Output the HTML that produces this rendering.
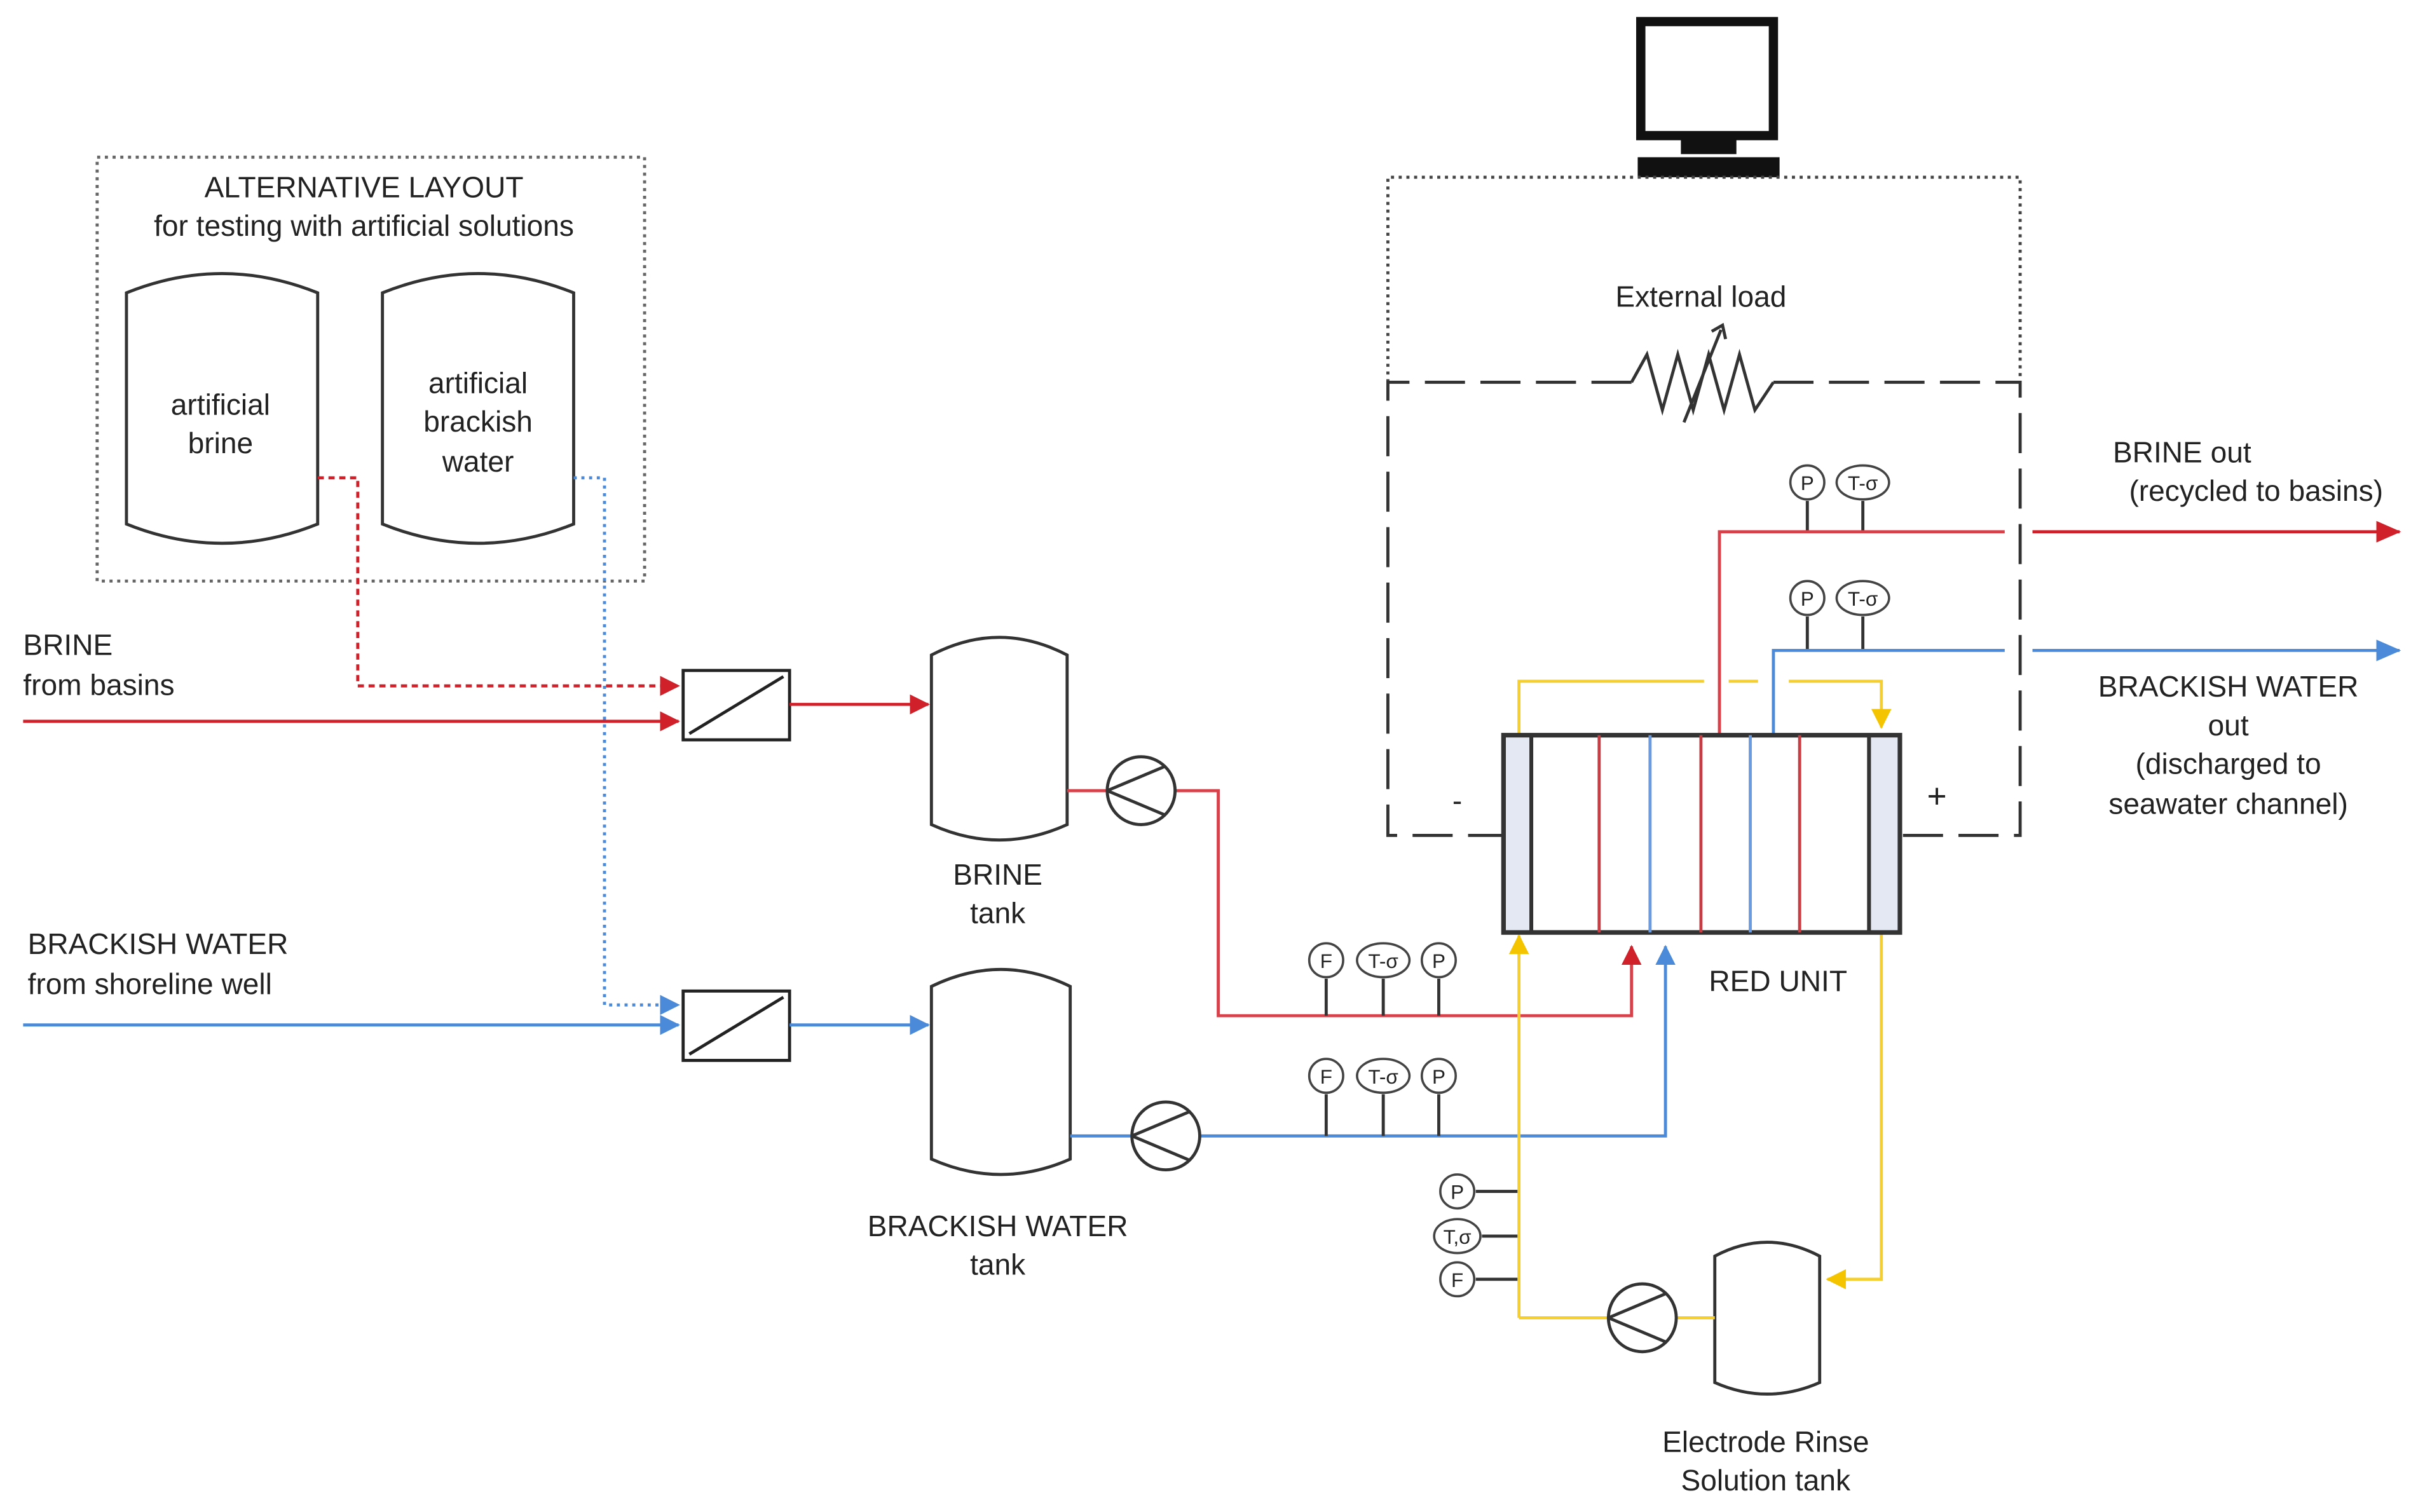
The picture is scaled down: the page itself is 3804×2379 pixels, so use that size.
<!DOCTYPE html>
<html><head><meta charset="utf-8"><style>
html,body{margin:0;padding:0;background:#fff;}
svg{display:block;}
text{font-family:"Liberation Sans",Arial,sans-serif;fill:#222;}
</style></head><body>
<svg width="3804" height="2379" viewBox="0 0 1568 981" preserveAspectRatio="none" xmlns="http://www.w3.org/2000/svg">
<defs>
<marker id="ar" markerWidth="13" markerHeight="13" refX="12" refY="6.5" orient="auto" markerUnits="userSpaceOnUse"><path d="M0,0 L13,6.5 L0,13z" fill="#d0202a"/></marker>
<marker id="ab" markerWidth="13" markerHeight="13" refX="12" refY="6.5" orient="auto" markerUnits="userSpaceOnUse"><path d="M0,0 L13,6.5 L0,13z" fill="#4a8ad8"/></marker>
<marker id="ay" markerWidth="13" markerHeight="13" refX="12" refY="6.5" orient="auto" markerUnits="userSpaceOnUse"><path d="M0,0 L13,6.5 L0,13z" fill="#f5c400"/></marker>
<marker id="ar2" markerWidth="16" markerHeight="14" refX="15" refY="7" orient="auto" markerUnits="userSpaceOnUse"><path d="M0,0 L16,7 L0,14z" fill="#d0202a"/></marker>
<marker id="ab2" markerWidth="16" markerHeight="14" refX="15" refY="7" orient="auto" markerUnits="userSpaceOnUse"><path d="M0,0 L16,7 L0,14z" fill="#4a8ad8"/></marker>
</defs>
<g fill="none" stroke-width="2">
<rect x="1064" y="14" width="86" height="74" stroke="#111" stroke-width="6"/>
<rect x="1090" y="90" width="36" height="10" fill="#111" stroke="none"/>
<rect x="1062" y="102" width="92" height="13" fill="#111" stroke="none"/>
<path d="M900,248 V115 H1310 V248" stroke="#444" stroke-dasharray="2,3"/>
<path d="M1058,248 H900 V542 H975" stroke="#333" stroke-dasharray="26,10"/>
<path d="M1150,248 H1310 V542 H1232" stroke="#333" stroke-dasharray="26,10"/>
<path d="M1058,248 L1068,230 L1078,266 L1088,230 L1098,266 L1108,230 L1118,266 L1128,230 L1138,266 L1150,248" stroke="#333"/>
<path d="M1092,274 L1116,214" stroke="#333"/><path d="M1110,215 L1117,211 L1119,220" stroke="#333"/>
<rect x="63" y="102" width="355" height="275" stroke="#666" stroke-dasharray="2,3"/>
<path d="M82,190 Q144,165 206,190 V340 Q144,365 82,340 Z" stroke="#333"/>
<path d="M248,190 Q310,165 372,190 V340 Q310,365 248,340 Z" stroke="#333"/>
<path d="M206,310 H232 V445 H440" stroke="#d0202a" stroke-dasharray="4,3" marker-end="url(#ar)"/>
<path d="M372,310 H392 V652 H440" stroke="#4a8ad8" stroke-dasharray="2,3" marker-end="url(#ab)"/>
<path d="M15,468 H440" stroke="#d0202a" marker-end="url(#ar)"/>
<path d="M15,665 H440" stroke="#4a8ad8" marker-end="url(#ab)"/>
<rect x="443" y="435" width="69" height="45" stroke="#222"/><path d="M447,476 L508,439" stroke="#222"/>
<rect x="443" y="643" width="69" height="45" stroke="#222"/><path d="M447,684 L508,647" stroke="#222"/>
<path d="M512,457 H602" stroke="#d0202a" marker-end="url(#ar)"/>
<path d="M512,665 H602" stroke="#4a8ad8" marker-end="url(#ab)"/>
<path d="M604,425 Q648,402 692,425 V535 Q648,555 604,535 Z" stroke="#333"/>
<path d="M604,640 Q649,618 694,640 V752 Q649,772 604,752 Z" stroke="#333"/>
<path d="M1112,815 Q1146,797 1180,815 V897 Q1146,912 1112,897 Z" stroke="#333"/>
<path d="M692,513 H718 M762,513 H790 V659 H1058 V614" stroke="#d8404a" marker-end="url(#ar)"/>
<circle cx="740" cy="513" r="22" stroke="#333" fill="#fff"/><path d="M718,513 L756,497 M718,513 L756,529" stroke="#333"/>
<path d="M694,737 H734 M778,737 H1080 V614" stroke="#4a8ad8" marker-end="url(#ab)"/>
<circle cx="756" cy="737" r="22" stroke="#333" fill="#fff"/><path d="M734,737 L772,721 M734,737 L772,753" stroke="#333"/>
<path d="M860,635 V659 M897,635 V659 M933,635 V659 M860,710 V737 M897,710 V737 M933,710 V737 M1172,325 V345 M1208,325 V345 M1172,400 V422 M1208,400 V422 M957,773 H985 M961,802 H985 M957,830 H985" stroke="#333"/>
<path d="M1115,477 V345 H1300" stroke="#d8404a"/>
<path d="M1318,345 H1556" stroke="#d0202a" marker-end="url(#ar2)"/>
<path d="M1150,477 V422 H1300" stroke="#4a8ad8"/>
<path d="M1318,422 H1556" stroke="#4a8ad8" marker-end="url(#ab2)"/>
<path d="M985,477 V442 H1105 M1121,442 H1140 M1160,442 H1220 V472" stroke="#f5cf30" marker-end="url(#ay)"/>
<path d="M985,855 H1043 M1087,855 H1112" stroke="#f5cf30"/>
<path d="M985,855 V607" stroke="#f5cf30" marker-end="url(#ay)"/>
<path d="M1220,605 V830 H1185" stroke="#f5cf30" marker-end="url(#ay)"/>
<circle cx="1065" cy="855" r="22" stroke="#333" fill="#fff"/><path d="M1043,855 L1081,839 M1043,855 L1081,871" stroke="#333"/>
<rect x="975" y="477" width="257" height="128" stroke="#333" stroke-width="3"/>
<rect x="976.5" y="478.5" width="17" height="125" fill="#e4e8f2" stroke="none"/>
<rect x="1212" y="478.5" width="18.5" height="125" fill="#e4e8f2" stroke="none"/>
<path d="M993,477 V605 M1212,477 V605" stroke="#333" stroke-width="2.5"/>
<path d="M1037,477 V605 M1103,477 V605 M1167,477 V605" stroke="#c83c44"/>
<path d="M1070,477 V605 M1135,477 V605" stroke="#6a9ae0"/>
<g stroke="#444" stroke-width="1.5" fill="#fff">
<circle cx="860" cy="623" r="11"/><ellipse cx="897" cy="623" rx="17" ry="11"/><circle cx="933" cy="623" r="11"/>
<circle cx="860" cy="698" r="11"/><ellipse cx="897" cy="698" rx="17" ry="11"/><circle cx="933" cy="698" r="11"/>
<circle cx="1172" cy="313" r="11"/><ellipse cx="1208" cy="313" rx="17" ry="11"/>
<circle cx="1172" cy="388" r="11"/><ellipse cx="1208" cy="388" rx="17" ry="11"/>
<circle cx="945" cy="773" r="11"/><ellipse cx="945" cy="802" rx="15" ry="11"/><circle cx="945" cy="830" r="11"/>
</g>
</g>
<g font-size="13" text-anchor="middle">
<text x="860" y="628">F</text><text x="897" y="628">T-σ</text><text x="933" y="628">P</text>
<text x="860" y="703">F</text><text x="897" y="703">T-σ</text><text x="933" y="703">P</text>
<text x="1172" y="318">P</text><text x="1208" y="318">T-σ</text>
<text x="1172" y="393">P</text><text x="1208" y="393">T-σ</text>
<text x="945" y="778">P</text><text x="945" y="807">T,σ</text><text x="945" y="835">F</text>
</g>
<g font-size="19" text-anchor="middle">
<text x="236" y="128">ALTERNATIVE LAYOUT</text>
<text x="236" y="153">for testing with artificial solutions</text>
<text x="143" y="269">artificial</text><text x="143" y="294">brine</text>
<text x="310" y="255">artificial</text><text x="310" y="280">brackish</text><text x="310" y="306">water</text>
<text x="1103" y="199">External load</text>
<text x="1415" y="300">BRINE out</text><text x="1463" y="325">(recycled to basins)</text>
<text x="1445" y="452">BRACKISH WATER</text><text x="1445" y="477">out</text><text x="1445" y="502">(discharged to</text><text x="1445" y="528">seawater channel)</text>
<text x="647" y="574">BRINE</text><text x="647" y="599">tank</text>
<text x="647" y="802">BRACKISH WATER</text><text x="647" y="827">tank</text>
<text x="1153" y="643">RED UNIT</text>
<text x="1145" y="942">Electrode Rinse</text><text x="1145" y="967">Solution tank</text>
<text x="945" y="526">-</text><text x="1256" y="524" font-size="22">+</text>
</g>
<g font-size="19">
<text x="15" y="425">BRINE</text><text x="15" y="451">from basins</text>
<text x="18" y="619">BRACKISH WATER</text><text x="18" y="645">from shoreline well</text>
</g>
</svg>
</body></html>
